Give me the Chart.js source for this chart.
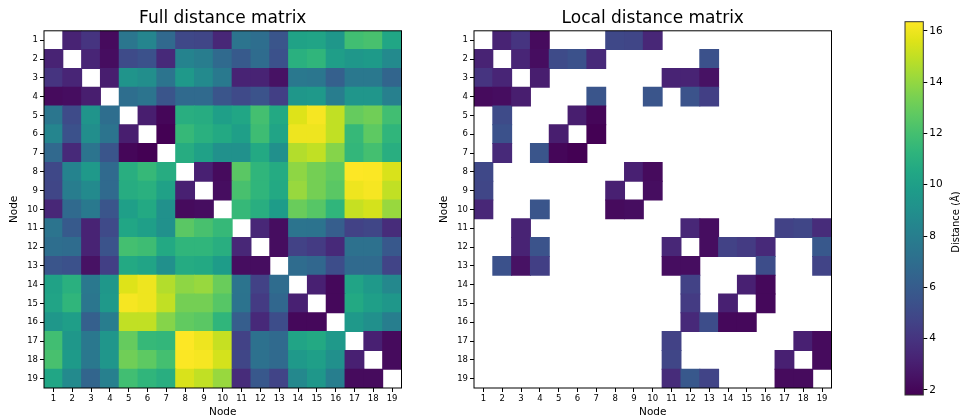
<!DOCTYPE html>
<html>
<head>
<meta charset="utf-8">
<script src="https://cdn.jsdelivr.net/npm/chart.js@4.4.1/dist/chart.umd.min.js"></script>
<style>
  html, body { margin: 0; padding: 0; background: #fff; }
  #wrap { position: relative; width: 960px; height: 419px; overflow: hidden; }
  #wrap canvas { position: absolute; top: 0; }
</style>
</head>
<body>
<div id="wrap">
  <canvas id="full" width="430" height="419" style="left:0px"></canvas>
  <canvas id="local" width="420" height="419" style="left:430px"></canvas>
  <canvas id="cbar" width="80" height="419" style="left:880px"></canvas>
</div>
<script>
// Node indices (rows and columns of both matrices)
const nodes = [1, 2, 3, 4, 5, 6, 7, 8, 9, 10, 11, 12, 13, 14, 15, 16, 17, 18, 19];

// Pairwise distances (Å), upper triangle: row i lists distances to nodes i+1..19
const upperDistances = [
  [3.2, 4.0, 2.2, 7.5, 8.4, 6.7, 4.9, 4.8, 3.4, 7.4, 7.0, 5.6, 10.2, 10.3, 9.5, 11.9, 12.1, 10.4],
  [3.3, 2.3, 5.1, 5.4, 3.5, 8.3, 7.9, 6.8, 5.9, 6.9, 5.4, 11.0, 11.3, 9.9, 9.5, 9.7, 8.7],
  [3.0, 9.3, 8.9, 7.4, 9.6, 8.7, 7.7, 3.2, 3.2, 2.5, 7.6, 7.5, 6.2, 7.6, 7.6, 6.5],
  [7.0, 7.4, 5.6, 6.8, 6.8, 5.6, 5.0, 5.5, 4.5, 9.5, 9.6, 7.9, 9.4, 9.4, 8.1],
  [3.0, 2.0, 10.9, 10.8, 10.0, 10.4, 12.0, 10.6, 15.6, 16.2, 15.0, 12.9, 13.2, 11.9],
  [1.8, 11.5, 11.0, 10.6, 10.0, 11.8, 10.3, 16.0, 16.0, 15.0, 11.5, 12.7, 11.3],
  [10.8, 10.1, 9.1, 9.1, 10.6, 9.0, 14.7, 15.0, 13.7, 11.4, 12.0, 10.9],
  [3.1, 2.2, 12.6, 11.3, 10.7, 13.9, 13.3, 12.8, 16.36, 16.3, 15.5],
  [2.3, 12.1, 11.3, 10.6, 14.1, 13.3, 12.6, 16.0, 16.2, 15.0],
  [11.5, 10.9, 9.8, 13.0, 12.5, 11.3, 15.1, 15.4, 14.1],
  [3.4, 2.3, 7.4, 7.3, 6.1, 4.6, 4.8, 3.6],
  [2.3, 4.6, 4.3, 3.5, 7.2, 7.2, 5.8],
  [6.9, 6.6, 5.2, 6.8, 6.8, 4.7],
  [3.1, 2.1, 10.3, 9.6, 8.6],
  [2.1, 10.6, 10.0, 9.5],
  [9.6, 9.0, 8.0],
  [3.1, 2.2],
  [2.2]
];

// Node pairs kept in the local distance matrix
const localPairs = [
  [1, 2], [1, 3], [1, 4], [1, 8], [1, 9], [1, 10],
  [2, 3], [2, 4], [2, 5], [2, 6], [2, 7], [2, 13],
  [3, 4], [3, 11], [3, 12], [3, 13],
  [4, 7], [4, 10], [4, 12], [4, 13],
  [5, 6], [5, 7], [6, 7],
  [8, 9], [8, 10], [9, 10],
  [11, 12], [11, 13], [11, 17], [11, 18], [11, 19],
  [12, 13], [12, 14], [12, 15], [12, 16], [12, 19],
  [13, 16], [13, 19],
  [14, 15], [14, 16], [15, 16],
  [17, 18], [17, 19], [18, 19]
];

// Colorbar tick values
const colorbarTicks = [2, 4, 6, 8, 10, 12, 14, 16];

// Viridis colormap stops
const viridis = [
  '#440154', '#471365', '#482475', '#463480', '#414487', '#3b528b', '#355f8d',
  '#2f6c8e', '#2a788e', '#25848e', '#21918c', '#1e9c89', '#22a884', '#2fb47c',
  '#44bf70', '#5ec962', '#7ad151', '#9bd93c', '#bddf26', '#dfe318', '#fde725'
];

const FONT = "'DejaVu Sans', 'Liberation Sans', sans-serif";

// Full symmetric matrix from the upper triangle
const n = nodes.length;
const dist = nodes.map(() => new Array(n).fill(null));
upperDistances.forEach((row, i) => {
  row.forEach((d, k) => {
    const j = i + 1 + k;
    dist[i][j] = d;
    dist[j][i] = d;
  });
});
const allValues = upperDistances.flat();
const vmin = Math.min(...allValues);
const vmax = Math.max(...allValues);

function hexToRgb(h) {
  return [parseInt(h.slice(1, 3), 16), parseInt(h.slice(3, 5), 16), parseInt(h.slice(5, 7), 16)];
}
const viridisRgb = viridis.map(hexToRgb);
function colorFor(v) {
  let t = (v - vmin) / (vmax - vmin);
  t = Math.max(0, Math.min(1, t));
  const p = t * (viridisRgb.length - 1);
  const k = Math.min(Math.floor(p), viridisRgb.length - 2);
  const f = p - k;
  const a = viridisRgb[k], b = viridisRgb[k + 1];
  const c = a.map((x, m) => Math.round(x + (b[m] - x) * f));
  return `rgb(${c[0]},${c[1]},${c[2]})`;
}

// One floating bar per matrix cell: x = column node, y spans the row node
function cell(i, j) {
  return { x: nodes[j], y: [nodes[i] - 0.5, nodes[i] + 0.5], v: dist[i][j] };
}
const fullCells = [];
for (let i = 0; i < n; i++) {
  for (let j = 0; j < n; j++) {
    if (i !== j) fullCells.push(cell(i, j));
  }
}
const localCells = [];
localPairs.forEach(([a, b]) => {
  localCells.push(cell(a - 1, b - 1));
  localCells.push(cell(b - 1, a - 1));
});

// Black box around the plotting area
const framePlugin = {
  id: 'frame',
  afterDatasetsDraw(chart, args, opts) {
    const { ctx, chartArea: a } = chart;
    ctx.save();
    ctx.strokeStyle = opts.color || '#000';
    ctx.lineWidth = opts.width || 1;
    ctx.strokeRect(a.left, a.top, a.right - a.left, a.bottom - a.top);
    ctx.restore();
  }
};

function nodeAxis(extra) {
  return Object.assign({
    type: 'linear',
    min: 0.5,
    max: 19.5,
    offset: false,
    afterBuildTicks: s => { s.ticks = nodes.map(v => ({ value: v })); },
    ticks: { font: { family: FONT, size: 8.5 }, color: '#000', padding: 2, autoSkip: false, maxRotation: 0 },
    grid: { drawOnChartArea: false, drawTicks: true, tickLength: 4, tickColor: '#000', offset: false },
    border: { display: false }
  }, extra);
}

function matrixChart(canvasId, titleText, cells, padRight) {
  return new Chart(document.getElementById(canvasId), {
    type: 'bar',
    data: {
      datasets: [{
        data: cells,
        backgroundColor: ctx => colorFor(ctx.raw.v),
        borderWidth: 0,
        borderSkipped: false,
        barPercentage: 1,
        categoryPercentage: 1,
        inflateAmount: 0.5
      }]
    },
    options: {
      responsive: false,
      animation: false,
      devicePixelRatio: 1,
      layout: { padding: { left: 0, right: padRight, top: 0, bottom: 0 } },
      plugins: {
        legend: { display: false },
        tooltip: { enabled: false },
        title: {
          display: true,
          text: titleText,
          fullSize: false,
          color: '#000',
          font: { family: FONT, size: 17, weight: 'normal' },
          padding: { top: 8.6, bottom: 1.8 }
        },
        frame: { color: '#000', width: 1 }
      },
      scales: {
        x: nodeAxis({
          afterFit: s => { s.height = 31; },
          title: { display: true, text: 'Node', color: '#000', font: { family: FONT, size: 10.5 }, padding: { top: 0, bottom: 0 } }
        }),
        y: nodeAxis({
          reverse: true,
          afterFit: s => { s.width = 44; },
          title: { display: true, text: 'Node', color: '#000', font: { family: FONT, size: 10.5 }, padding: { top: 7.5, bottom: 0 } }
        })
      }
    },
    plugins: [framePlugin]
  });
}

matrixChart('full', 'Full distance matrix', fullCells, 28.5);
matrixChart('local', 'Local distance matrix', localCells, 18.5);

// Colorbar: one bar spanning the value range, filled with the colormap
const cbarLabelPlugin = {
  id: 'cbarLabel',
  afterDraw(chart) {
    const { ctx } = chart;
    ctx.save();
    ctx.translate(76.5, 222);
    ctx.rotate(-Math.PI / 2);
    ctx.fillStyle = '#000';
    ctx.font = `10px ${FONT}`;
    ctx.textAlign = 'center';
    ctx.textBaseline = 'middle';
    ctx.fillText('Distance (Å)', 0, 0);
    ctx.restore();
  }
};

new Chart(document.getElementById('cbar'), {
  type: 'bar',
  data: {
    labels: [''],
    datasets: [{
      data: [[vmin, vmax]],
      backgroundColor: ctx => {
        const chart = ctx.chart;
        if (!chart.chartArea) return viridis[0];
        const ys = chart.scales.y;
        const g = chart.ctx.createLinearGradient(0, ys.getPixelForValue(vmin), 0, ys.getPixelForValue(vmax));
        viridis.forEach((c, k) => g.addColorStop(k / (viridis.length - 1), c));
        return g;
      },
      borderWidth: 0,
      borderSkipped: false,
      barPercentage: 1,
      categoryPercentage: 1
    }]
  },
  options: {
    responsive: false,
    animation: false,
    devicePixelRatio: 1,
    layout: { padding: { left: 25, right: 0, top: 21.7, bottom: 24 } },
    plugins: {
      legend: { display: false },
      tooltip: { enabled: false },
      frame: { color: '#333', width: 1 }
    },
    scales: {
      x: { display: false },
      y: {
        type: 'linear',
        position: 'right',
        min: vmin,
        max: vmax,
        afterBuildTicks: s => { s.ticks = colorbarTicks.map(v => ({ value: v })); },
        afterFit: s => { s.width = 36.7; },
        ticks: { font: { family: FONT, size: 10.5 }, color: '#000', padding: 2 },
        grid: { drawOnChartArea: false, drawTicks: true, tickLength: 4, tickColor: '#000' },
        border: { display: false }
      }
    }
  },
  plugins: [framePlugin, cbarLabelPlugin]
});
</script>
</body>
</html>
